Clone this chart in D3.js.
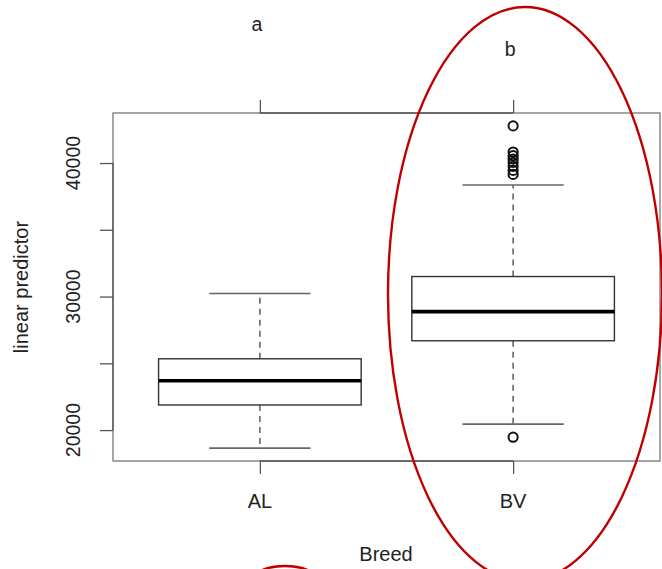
<!DOCTYPE html>
<html>
<head>
<meta charset="utf-8">
<script src="https://cdn.jsdelivr.net/npm/d3@7"></script>
<style>
  html, body { margin: 0; padding: 0; background: #fff; }
  svg { display: block; }
  text { font-family: "Liberation Sans", Arial, Helvetica, sans-serif; fill: #222; }
</style>
</head>
<body>
<svg id="chart" width="662" height="569"></svg>
<script>
// Breed boxplot of the linear predictor
const breeds = ["AL", "BV"];
const groupLetters = ["a", "b"];
const lowerWhisker = [18650, 20450];
const q1 = [21880, 26690];
const median = [23690, 28870];
const q3 = [25340, 31500];
const upperWhisker = [30230, 38350];
const outliersAL = [];
const outliersBV = [42780, 40820, 40550, 40300, 40050, 39750, 39450, 39150, 19470];
const yTicks = [20000, 25000, 30000, 35000, 40000];
const yTickLabels = ["20000", "", "30000", "", "40000"];

const svg = d3.select("#chart");
const plot = { left: 113, right: 660, top: 113, bottom: 461 };

const x = d3.scaleLinear().domain([0.42, 2.58]).range([plot.left, plot.right]);
const y = d3.scaleLinear().domain([17685, 43747]).range([plot.bottom, plot.top]);

const boxWidth = x(1.8) - x(1);   // 0.8 category units
const capWidth = boxWidth / 2;

// plot frame
svg.append("rect")
  .attr("x", plot.left).attr("y", plot.top)
  .attr("width", plot.right - plot.left).attr("height", plot.bottom - plot.top)
  .attr("fill", "none").attr("stroke", "#777").attr("stroke-width", 1.3);

// left axis
const yAxis = d3.axisLeft(y).tickValues(yTicks).tickSize(13).tickFormat("");
const gy = svg.append("g").attr("transform", `translate(${plot.left},0)`).call(yAxis);
gy.select(".domain").attr("d", `M0,${y(20000)}V${y(40000)}`).attr("stroke", "#555").attr("stroke-width", 1.3);
gy.selectAll(".tick line").attr("stroke", "#555").attr("stroke-width", 1.3);
svg.selectAll(".ylab").data(yTicks.map((t, i) => ({ t, lab: yTickLabels[i] })).filter(d => d.lab))
  .enter().append("text")
  .attr("transform", d => `translate(80,${y(d.t)}) rotate(-90)`)
  .attr("text-anchor", "middle").attr("font-size", 19.5)
  .text(d => d.lab);

// bottom and top category axes
const cats = [1, 2];
const xBottom = d3.axisBottom(x).tickValues(cats).tickSize(13).tickFormat("");
const gb = svg.append("g").attr("transform", `translate(0,${plot.bottom})`).call(xBottom);
gb.select(".domain").attr("d", `M${x(1)},0H${x(2)}`).attr("stroke", "#555").attr("stroke-width", 1.6);
gb.selectAll(".tick line").attr("stroke", "#555").attr("stroke-width", 1.3);

const xTop = d3.axisTop(x).tickValues(cats).tickSize(13).tickFormat("");
const gt = svg.append("g").attr("transform", `translate(0,${plot.top})`).call(xTop);
gt.select(".domain").attr("d", `M${x(1)},0H${x(2)}`).attr("stroke", "#555").attr("stroke-width", 1.6);
gt.selectAll(".tick line").attr("stroke", "#555").attr("stroke-width", 1.3);

svg.selectAll(".xlab").data(breeds).enter().append("text")
  .attr("x", (d, i) => x(i + 1)).attr("y", 508)
  .attr("text-anchor", "middle").attr("font-size", 20)
  .text(d => d);

// significance letters above each group
svg.selectAll(".letter").data(groupLetters).enter().append("text")
  .attr("x", (d, i) => x(i + 1) - 3).attr("y", (d, i) => i === 0 ? 31 : 56)
  .attr("text-anchor", "middle").attr("font-size", 19.5)
  .text(d => d);

// axis titles
svg.append("text").attr("x", 386).attr("y", 561)
  .attr("text-anchor", "middle").attr("font-size", 20).text("Breed");
svg.append("text").attr("transform", `translate(28,${(plot.top + plot.bottom) / 2}) rotate(-90)`)
  .attr("text-anchor", "middle").attr("font-size", 20).text("linear predictor");

// boxes
const groups = breeds.map((b, i) => ({
  i, cx: x(i + 1),
  lw: lowerWhisker[i], q1: q1[i], med: median[i], q3: q3[i], uw: upperWhisker[i],
  out: i === 0 ? outliersAL : outliersBV
}));

const g = svg.selectAll(".box").data(groups).enter().append("g");

// dashed whiskers
g.append("line").attr("x1", d => d.cx).attr("x2", d => d.cx)
  .attr("y1", d => y(d.q3)).attr("y2", d => y(d.uw))
  .attr("stroke", "#666").attr("stroke-width", 1.6).attr("stroke-dasharray", "6,5");
g.append("line").attr("x1", d => d.cx).attr("x2", d => d.cx)
  .attr("y1", d => y(d.q1)).attr("y2", d => y(d.lw))
  .attr("stroke", "#666").attr("stroke-width", 1.6).attr("stroke-dasharray", "6,5");
// whisker caps
g.selectAll(".cap").data(d => [{ cx: d.cx, v: d.uw }, { cx: d.cx, v: d.lw }]).enter().append("line")
  .attr("x1", d => d.cx - capWidth / 2).attr("x2", d => d.cx + capWidth / 2)
  .attr("y1", d => y(d.v)).attr("y2", d => y(d.v))
  .attr("stroke", "#666").attr("stroke-width", 1.6);
// box
g.append("rect")
  .attr("x", d => d.cx - boxWidth / 2).attr("width", boxWidth)
  .attr("y", d => y(d.q3)).attr("height", d => y(d.q1) - y(d.q3))
  .attr("fill", "#fff").attr("stroke", "#333").attr("stroke-width", 1.4);
// median
g.append("line")
  .attr("x1", d => d.cx - boxWidth / 2).attr("x2", d => d.cx + boxWidth / 2)
  .attr("y1", d => y(d.med)).attr("y2", d => y(d.med))
  .attr("stroke", "#000").attr("stroke-width", 3.6);
// outliers
g.selectAll(".out").data(d => d.out.map(v => ({ cx: d.cx, v }))).enter().append("circle")
  .attr("cx", d => d.cx).attr("cy", d => y(d.v)).attr("r", 4.6)
  .attr("fill", "none").attr("stroke", "#111").attr("stroke-width", 2);

// red highlight ellipses
svg.append("ellipse").attr("cx", 525).attr("cy", 294).attr("rx", 137).attr("ry", 287)
  .attr("fill", "none").attr("stroke", "#c00000").attr("stroke-width", 2.4);
svg.append("ellipse").attr("cx", 285).attr("cy", 596).attr("rx", 45).attr("ry", 30)
  .attr("fill", "none").attr("stroke", "#c00000").attr("stroke-width", 2.4);
</script>
</body>
</html>
